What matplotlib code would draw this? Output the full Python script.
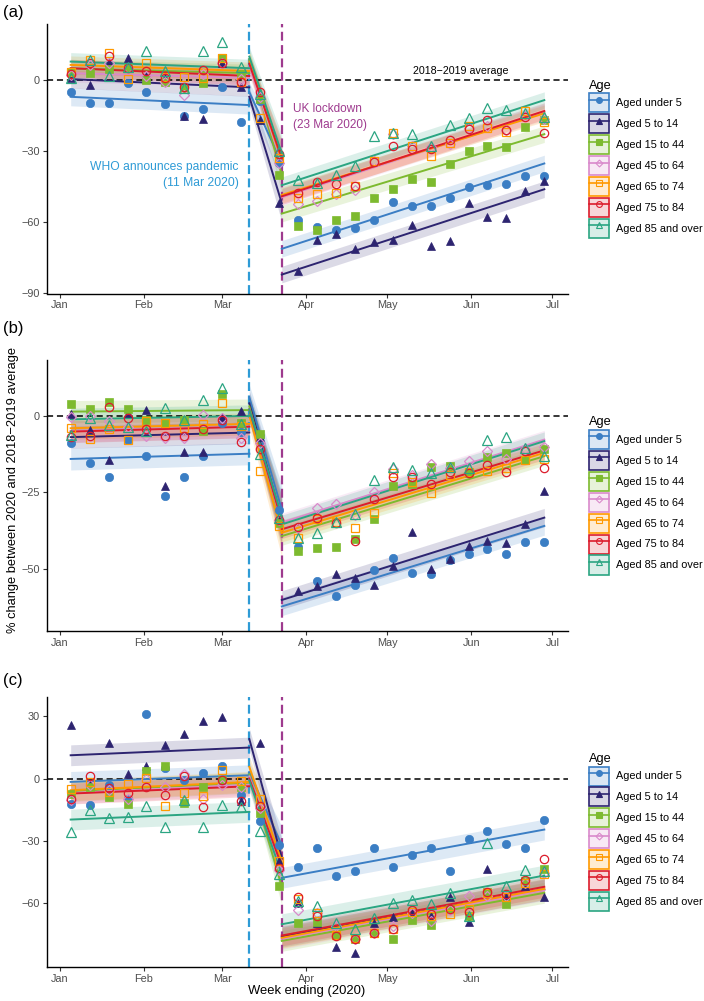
import matplotlib
matplotlib.use('Agg')
import matplotlib.pyplot as plt
import matplotlib.dates as mdates
from matplotlib.patches import Patch
from matplotlib.lines import Line2D
from matplotlib.colors import to_rgba
import pandas as pd

plt.rcParams['font.family'] = ['Liberation Sans', 'DejaVu Sans']

# weeks ending (Sunday), 2020
weeks = pd.date_range('2020-01-05', '2020-06-28', freq='7D')
who_date = pd.Timestamp('2020-03-11')
lockdown_date = pd.Timestamp('2020-03-23')

groups = ['Aged under 5', 'Aged 5 to 14', 'Aged 15 to 44', 'Aged 45 to 64',
          'Aged 65 to 74', 'Aged 75 to 84', 'Aged 85 and over']
colours = ['#3B7EC4', '#2D2470', '#7DBA2F', '#D98ACB', '#FF9900', '#DC1C2C', '#2BA582']
markers = ['o', '^', 's', 'D', 's', 'o', '^']
filled = [True, True, True, False, False, False, False]
msizes = [6, 6, 5.5, 5, 6, 6, 6.5]

# ---- panel (a) ----
a_under5 = [-4.8, -9.8, -9.5, -1.3, -4.8, -10, -15, -12.3, -2.7, -17.7, -8.7, -35.2, -59.3, -62.1,
            -63.5, -62.4, -59.3, -51.5, -53.2, -53.2, -50, -45.1, -44.1, -43.7, -40.6, -40.6]
a_5to14 = [0.8, -2, 7.9, 9.3, 1.6, 0.8, -15, -16.4, 7.2, -2.7, -17, -52, -80.5, -67.5,
           -65.2, -71.3, -68.5, -67.5, -61.4, -69.9, -67.8, -51.9, -57.9, -58.1, -46.8, -42.6]
a_15to44 = [3.7, 3, 4.8, 5, 0, -0.6, -3.8, -1.3, 9.3, 2.7, -8, -40, -61.8, -63.2,
            -59, -57.6, -50, -45.8, -41.6, -43, -35.5, -29.8, -27.9, -28.1, -19.7, -16.8]
a_45to64 = [2.3, 6.5, 7.2, 5, 1.6, -0.6, -6.2, 2.7, 7.2, 0.4, -7, -35, -52.2, -51.2,
            -48.2, -46.3, -34, -22.8, -27.9, -28.4, -27, -20, -19.4, -21, -15.1, -16.3]
a_65to74 = [3.7, 8.6, 11.5, 0.4, 7.5, 1.3, 1.3, 0.8, 9.3, -0.6, -16, -33, -50, -48,
            -47.7, -44.8, -34, -22.2, -27.9, -32.1, -26.7, -19.4, -20.4, -21.8, -13, -17.5]
a_75to84 = [2.7, 7.2, 10.3, 5, 4, 0.8, -3, 4.4, 7.2, -0.6, -5, -31.4, -47.7, -43,
            -43.7, -44.8, -34.5, -27.9, -28.9, -28.9, -25.3, -20.8, -16.8, -21, -15.7, -22.1]
a_85plus = [0.8, 8.6, 1.8, 5.8, 12.2, 4.1, -3.1, 12.2, 16.1, 5.8, -6, -30, -42.3, -43.4,
            -40.2, -36.4, -23.6, -22.5, -22.8, -27.9, -19, -16.1, -11.9, -12.6, -14, -15.4]
a_pre_start = [-7, 0.5, 5, 3, 6.5, 5.1, 7.9]
a_pre_end = [-10.5, -3, 3, 1, 3.9, 1.8, 5.1]
a_tr_start = [-5, -7, 9, 6, 8, 7, 10]
a_tr_end = [-35, -52, -40, -35, -34, -33, -31]
a_post_start = [-71.3, -82.2, -56.4, -49.5, -48.5, -49.1, -44.4]
a_post_end = [-35.2, -46.1, -22.8, -13.5, -14, -13, -8.4]

# ---- panel (b) ----
b_under5 = [-9, -15.3, -20, -7.9, -13, -26.3, -20, -13.3, -2.3, -5.2, -6.6, -30.6, -42.6, -53.8,
            -58.7, -55.2, -50.3, -46.2, -51.1, -51.4, -47.1, -44.9, -43.3, -44.9, -41.1, -41.1]
b_5to14 = [0.4, -4.7, -14.6, 0.8, 1.8, -23, -11.7, -11.7, -0.5, 1.5, -7, -34.4, -57, -55.6,
           -51.6, -52.7, -55.2, -48.9, -37.9, -49.8, -46.8, -42.4, -40.8, -41.3, -35.4, -24.6]
b_15to44 = [3.8, 2.2, 4.4, 2.1, -1.4, -2.5, -1.4, -4.9, 6.9, -2.5, -6, -35, -44, -43,
            -42.6, -40.3, -33.5, -22.9, -22.1, -16.7, -16.5, -18.6, -13.4, -12.3, -14.3, -11]
b_45to64 = [-0.3, -0.1, -1.9, -3.8, -6.6, -7.4, -7.4, 0.2, -0.9, -7.4, -9, -34, -36.5, -30,
            -28.9, -32.5, -24.9, -17.3, -19.2, -15.6, -17, -14.8, -11.6, -14.1, -11, -10.2]
b_65to74 = [-4.1, -7.7, -4.5, -7.9, -1.9, -2.5, -4.1, -2.7, 4, -3.4, -17.9, -36, -39.7, -33.5,
            -34.6, -36.5, -31.6, -18.6, -21.6, -25.3, -19.2, -18.4, -18.1, -17, -14.3, -14.1]
b_75to84 = [-6.8, -6.6, 2.7, -0.9, -4.4, -6.6, -6.6, -4.4, -1.4, -8.5, -10.8, -34, -36.1, -33.2,
            -34.8, -40.8, -27.1, -19.9, -19.9, -22.4, -18.4, -18.6, -16.2, -18.4, -11.6, -17]
b_85plus = [-6.3, -0.9, -3, -3.6, -5, 2.6, -1.4, 5.1, 9.1, -2.8, -12.4, -33.3, -39.7, -38.3,
            -34.6, -32.1, -21, -16.7, -17.7, -18.8, -16.7, -17, -8, -7, -10.5, -13.2]
b_pre_start = [-14.1, -7, 1.3, -5, -4.1, -5.2, -1.2]
b_pre_end = [-12.4, -5.5, 1.8, -3.5, -2.7, -3.6, -0.1]
b_tr_start = [6, 4, 3, 2, 0, 2, 2]
b_tr_end = [-30.6, -33.9, -36, -35, -38.2, -34.4, -32.8]
b_post_start = [-62.1, -60, -39.2, -34.8, -38.1, -37, -35.4]
b_post_end = [-35.9, -33.2, -13.2, -7.8, -12.1, -11.3, -8.3]

# ---- panel (c) ----
c_under5 = [-12.3, -12.8, -3.2, -9.8, 31.2, 5.3, -0.8, 2.7, 5.9, -8, -20.2, -31.7, -42.4, -33.6,
            -46.6, -44.2, -33.6, -42.4, -36.8, -33.3, -44.5, -29, -25, -31.2, -33.6, -19.7]
c_5to14 = [25.9, -2.4, 17.3, 2.4, 5.9, 16.3, 21.3, 27.5, 29.6, -10.9, 17.1, -39.7, -59.7, -69.3,
           -80.8, -83.7, -69.3, -66.6, -64.5, -65.8, -56.8, -69, -43.4, -56.8, -51.7, -56.8]
c_15to44 = [-7.5, -4, -8.8, -12, 3.5, 5.9, -11.7, -4, -0.5, -4, -16.5, -51.7, -69.6, -69,
            -75.4, -77, -74.1, -77.3, -68, -70.6, -62.9, -66.1, -54.6, -60.5, -49.3, -43.4]
c_45to64 = [-10.4, -3.2, -5.6, -9.6, 0, -4, 2.4, -9.6, -3.2, -4, -14, -44, -63.2, -64.5,
            -70.9, -77, -74.1, -70.9, -64.8, -68.5, -63.2, -56.5, -56.5, -56.5, -50.1, -45.3]
c_65to74 = [-5.1, -1.6, -6.4, -2.4, 0.5, -13.1, -6.7, -8.3, 4.3, -1.1, -9.8, -39.5, -58.1, -64.8,
            -75.4, -76.5, -74.1, -72.2, -64, -65.8, -65.3, -62.6, -54.9, -56.8, -50.1, -45.8]
c_75to84 = [-9.6, 1.1, -4.3, -6.9, -4, -8, 1.1, -13.6, -0.5, -10.9, -13.3, -42.9, -57, -66.1,
            -75.7, -77, -74.1, -72.5, -63.2, -65.3, -62.9, -64.2, -54.4, -55.7, -48.8, -38.6]
c_85plus = [-25.6, -15.2, -18.9, -18.4, -13.3, -23.2, -10.4, -23.5, -12.8, -13.6, -25.3, -46, -58.9, -61.3,
            -69.6, -72.2, -66.9, -60, -58.4, -60.5, -54.9, -66.1, -30.9, -51.7, -43.7, -44.5]
c_pre_start = [-1.6, 11.2, -6, -7, -5.6, -7.2, -19.7]
c_pre_end = [1.6, 14.9, -2, -3, -1.6, -3.7, -16]
c_tr_start = [3, 19, 2, 1, 5.6, 0, -1]
c_tr_end = [-32, -38, -52, -44, -40, -42, -46]
c_post_start = [-47.7, -76, -78, -77, -76.5, -75.4, -70]
c_post_end = [-24.5, -53.3, -54.9, -53.6, -53, -52, -46.6]

# ribbon half widths: pre, transition start, transition end, post
band_a = [3.8, 4, 8, 3.5]
band_b = [3.6, 4, 8, 3]
band_c = [5, 5, 9, 5]


def draw_panel(ax, points, pre0, pre1, tr0, tr1, post0, post1, band, ylim, yticks):
    for i, col in enumerate(colours):
        segs = [([weeks[0], who_date], pre0[i], pre1[i], band[0], band[0]),
                ([who_date, lockdown_date], tr0[i], tr1[i], band[1], band[2]),
                ([lockdown_date, weeks[-1]], post0[i], post1[i], band[3], band[3])]
        for xs, y0, y1, w0, w1 in segs:
            ax.fill_between(xs, [y0 - w0, y1 - w1], [y0 + w0, y1 + w1],
                            color=col, alpha=0.17, lw=0, zorder=1)
    ax.axhline(0, color='black', lw=1.1, ls=(0, (4, 2.5)), zorder=2)
    ax.axvline(who_date, color='#2E9BD6', lw=1.6, ls=(0, (4, 2)), zorder=2)
    ax.axvline(lockdown_date, color='#9E3A8E', lw=1.6, ls=(0, (4, 2)), zorder=2)
    for i, col in enumerate(colours):
        for xs, ys in [([weeks[0], who_date], [pre0[i], pre1[i]]),
                       ([who_date, lockdown_date], [tr0[i], tr1[i]]),
                       ([lockdown_date, weeks[-1]], [post0[i], post1[i]])]:
            ax.plot(xs, ys, color=col, lw=1.4, zorder=3)
    for i, col in enumerate(colours):
        ax.plot(weeks, points[i], ls='none', marker=markers[i], ms=msizes[i],
                mfc=col if filled[i] else 'none', mec=col, mew=0.9 if not filled[i] else 0.5,
                zorder=4)

    ax.set_xlim(weeks[0] - pd.Timedelta(days=8.75), weeks[-1] + pd.Timedelta(days=8.75))
    ax.set_ylim(*ylim)
    ax.set_yticks(yticks)
    ax.xaxis.set_major_locator(mdates.MonthLocator())
    ax.xaxis.set_major_formatter(mdates.DateFormatter('%b'))
    for s in ['top', 'right']:
        ax.spines[s].set_visible(False)
    for s in ['left', 'bottom']:
        ax.spines[s].set_linewidth(1.0)
    ax.tick_params(direction='out', length=3, width=0.8, color='#333333',
                   labelcolor='#4D4D4D', labelsize=7.8, pad=2)
    ax.set_yticklabels([str(t).replace('-', '\u2212') for t in yticks])

    handles = []
    for i, col in enumerate(colours):
        p = Patch(facecolor=to_rgba(col, 0.18), edgecolor=col, lw=1.2)
        l = Line2D([], [], color=col, lw=1.2, marker=markers[i], ms=msizes[i] * 0.7,
                   mfc=col if filled[i] else 'none', mec=col, mew=0.8)
        handles.append((p, l))
    ax.legend(handles, groups, title='Age', loc='center left',
              bbox_to_anchor=(1.0 + 21 / 521, 0.5), frameon=False, fontsize=7.8,
              title_fontsize=9.2, handlelength=1.85, handleheight=2.33,
              labelspacing=0.17, handletextpad=0.65, borderpad=0, borderaxespad=0,
              alignment='left')


fig = plt.figure(figsize=(7.04, 10.01), dpi=100)
W, H = 704, 1001
left, right = 47, 568


def axes_at(top, bottom):
    return fig.add_axes([left / W, 1 - bottom / H, (right - left) / W, (bottom - top) / H])


ax_a = axes_at(24, 293.5)
ax_b = axes_at(360, 630.7)
ax_c = axes_at(697, 966.7)

draw_panel(ax_a, [a_under5, a_5to14, a_15to44, a_45to64, a_65to74, a_75to84, a_85plus],
           a_pre_start, a_pre_end, a_tr_start, a_tr_end, a_post_start, a_post_end,
           band_a, (-90.2, 23.8), [0, -30, -60, -90])
draw_panel(ax_b, [b_under5, b_5to14, b_15to44, b_45to64, b_65to74, b_75to84, b_85plus],
           b_pre_start, b_pre_end, b_tr_start, b_tr_end, b_post_start, b_post_end,
           band_b, (-70, 18.1), [0, -25, -50])
draw_panel(ax_c, [c_under5, c_5to14, c_15to44, c_45to64, c_65to74, c_75to84, c_85plus],
           c_pre_start, c_pre_end, c_tr_start, c_tr_end, c_post_start, c_post_end,
           band_c, (-90.4, 39.2), [30, 0, -30, -60])

# annotations in panel (a)
ax_a.text(pd.Timestamp('2020-05-28'), 1.8, '2018\u22122019 average', ha='center', va='bottom',
          fontsize=7.7, color='black')
ax_a.text(pd.Timestamp('2020-03-27'), -15.4, 'UK lockdown\n(23 Mar 2020)', ha='left', va='center',
          fontsize=8.5, color='#9E3A8E', linespacing=1.45)
ax_a.text(pd.Timestamp('2020-03-07'), -40.2, 'WHO announces pandemic\n(11 Mar 2020)', ha='right',
          va='center', fontsize=8.7, color='#2E9BD6', linespacing=1.45, multialignment='right')

fig.text(3 / W, 1 - 12.5 / H, '(a)', fontsize=12, va='center', ha='left')
fig.text(3 / W, 1 - 329 / H, '(b)', fontsize=12, va='center', ha='left')
fig.text(3 / W, 1 - 680 / H, '(c)', fontsize=12, va='center', ha='left')
fig.text(13 / W, 1 - 490 / H, '% change between 2020 and 2018\u22122019 average', rotation=90,
         fontsize=9.3, va='center', ha='center')
fig.text(307 / W, 1 - 991 / H, 'Week ending (2020)', fontsize=9.4, va='center', ha='center')

fig.savefig('out.png', dpi=100)
